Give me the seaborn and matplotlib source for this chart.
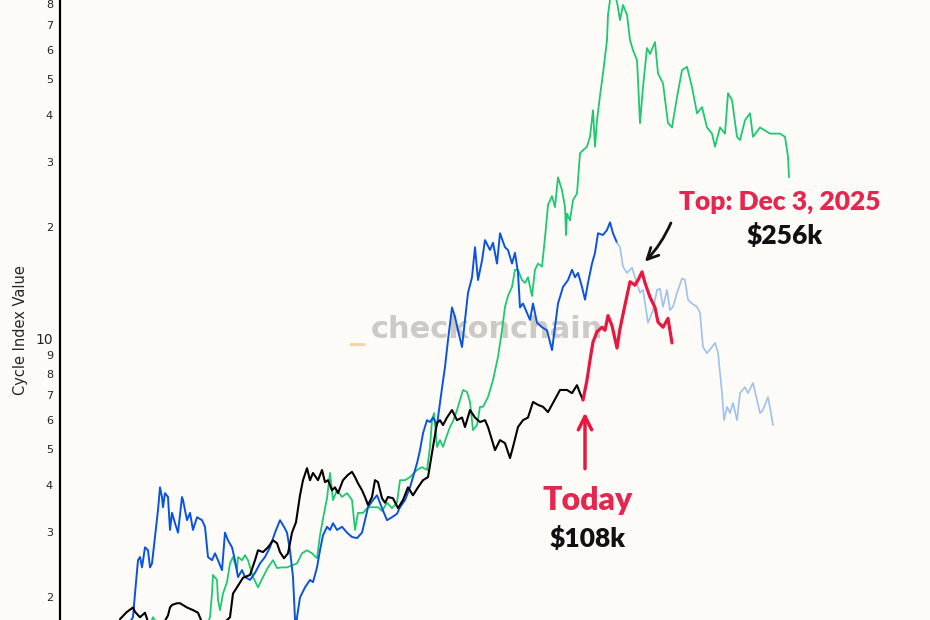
import seaborn as sns
import matplotlib.pyplot as plt
from matplotlib.ticker import FixedLocator, NullLocator

# Cycle index (log scale) against days since the cycle low
black_days = [120, 134, 146, 150, 160, 170, 176, 200, 216, 220,
              224, 234, 240, 254, 266, 276, 290, 310, 330, 340,
              346, 354, 366, 380, 390, 396, 406, 416, 426, 434,
              440, 448, 456, 464, 472, 480, 486, 494, 500, 506,
              516, 524, 530, 536, 544, 550, 556, 566, 576, 584,
              590, 596, 604, 610, 616, 624, 630, 636, 644, 650,
              656, 666, 676, 686, 696, 706, 716, 726, 736, 746,
              754, 760, 766, 774, 784, 794, 804, 810, 820, 830,
              840, 850, 856, 864, 870, 880, 890, 900, 906, 916,
              926, 936, 946, 956, 966, 976, 986, 1000, 1014, 1024,
              1034, 1040, 1046]
black_vals = [1.74, 1.82, 1.87, 1.82, 1.76, 1.81, 1.71, 1.63, 1.78, 1.87,
              1.90, 1.92, 1.92, 1.87, 1.84, 1.81, 1.63, 1.58, 1.71, 1.76,
              2.04, 2.12, 2.25, 2.29, 2.51, 2.67, 2.64, 2.72, 2.84, 2.79,
              2.64, 2.54, 2.62, 2.98, 3.18, 3.76, 4.13, 4.45, 4.13, 4.32,
              4.13, 4.40, 4.08, 4.13, 3.88, 3.95, 3.81, 4.13, 4.27, 4.35,
              4.21, 4.05, 3.88, 3.72, 3.54, 3.72, 4.13, 4.08, 3.69, 3.59,
              3.72, 3.69, 3.47, 3.65, 3.95, 3.76, 3.95, 4.13, 4.21, 5.08,
              5.89, 6.00, 5.82, 6.10, 6.39, 6.00, 6.10, 5.75, 6.39, 6.10,
              5.93, 6.00, 5.75, 5.30, 4.98, 5.30, 5.20, 4.74, 5.08, 5.75,
              6.00, 6.10, 6.72, 6.60, 6.52, 6.31, 6.68, 7.24, 7.24, 7.10,
              7.46, 7.10, 6.80]

blue_days = [130, 146, 150, 156, 160, 164, 170, 176, 180, 184,
             190, 196, 200, 204, 206, 210, 216, 220, 224, 230,
             236, 244, 246, 254, 260, 266, 274, 284, 290, 296,
             304, 310, 316, 324, 330, 336, 344, 350, 356, 364,
             370, 380, 390, 400, 410, 420, 430, 440, 448, 454,
             460, 466, 470, 472, 474, 480, 490, 500, 506, 514,
             520, 526, 534, 540, 546, 554, 564, 574, 584, 594,
             604, 610, 616, 626, 634, 644, 654, 664, 674, 680,
             690, 700, 706, 714, 720, 726, 734, 740, 746, 754,
             758, 764, 770, 776, 784, 790, 796, 804, 810, 816,
             824, 830, 836, 844, 850, 860, 866, 874, 880, 890,
             896, 904, 910, 916, 920, 926, 934, 940, 946, 954,
             964, 974, 984, 990, 996, 1006, 1016, 1024, 1030, 1036,
             1044, 1050, 1056, 1064, 1070, 1076, 1086, 1094, 1100, 1106,
             1114]
blue_vals = [1.63, 1.76, 2.04, 2.51, 2.56, 2.40, 2.72, 2.67, 2.40, 2.46,
             2.90, 3.43, 3.95, 3.72, 3.49, 3.81, 3.72, 3.03, 3.37, 3.16,
             2.98, 3.72, 3.65, 3.22, 3.37, 3.03, 3.28, 3.22, 3.09, 2.56,
             2.51, 2.62, 2.51, 2.36, 2.98, 2.84, 2.72, 2.51, 2.26, 2.36,
             2.26, 2.22, 2.32, 2.46, 2.56, 2.72, 2.98, 3.22, 3.09, 2.98,
             2.67, 2.26, 1.73, 1.63, 1.76, 1.99, 2.12, 2.22, 2.19, 2.40,
             2.67, 2.93, 3.09, 3.03, 3.16, 3.03, 3.09, 2.98, 2.90, 2.88,
             2.98, 3.22, 3.49, 3.65, 3.76, 3.47, 3.22, 3.28, 3.35, 3.49,
             3.65, 3.95, 4.21, 4.59, 4.98, 5.53, 6.00, 5.93, 6.10, 5.82,
             6.39, 7.33, 8.35, 9.88, 12.1, 11.4, 10.5, 9.46, 11.2, 13.25,
             14.6, 17.6, 14.35, 16.2, 18.4, 17.3, 18.1, 15.9, 19.2, 17.6,
             17.3, 15.9, 17.0, 15.0, 12.1, 12.4, 11.7, 11.2, 12.4, 11.0,
             10.7, 10.5, 9.28, 10.7, 12.4, 13.75, 14.35, 15.3, 14.6, 15.0,
             13.75, 12.7, 14.1, 15.9, 17.0, 19.2, 19.0, 19.6, 20.55, 19.2,
             18.1]

# rest of the blue cycle, drawn faded as the path ahead
proj_days = [1114, 1120, 1126, 1134, 1144, 1150, 1160, 1166, 1176, 1186,
             1194, 1200, 1206, 1214, 1220, 1226, 1234, 1244, 1250, 1256,
             1264, 1274, 1280, 1286, 1294, 1304, 1310, 1316, 1324, 1328,
             1334, 1340, 1346, 1354, 1360, 1370, 1376, 1386, 1394, 1400,
             1406, 1416, 1422, 1426]
proj_vals = [18.1, 17.6, 15.6, 15.0, 15.5, 14.6, 13.25, 13.5, 11.0, 11.9,
             13.5, 13.6, 12.15, 13.5, 11.9, 12.15, 13.25, 14.5, 14.35, 12.7,
             12.4, 12.15, 11.7, 9.46, 9.1, 9.46, 9.7, 9.15, 7.10, 6.00,
             6.52, 6.27, 6.68, 6.00, 7.10, 7.37, 7.10, 7.56, 6.80, 6.27,
             6.39, 6.93, 6.27, 5.82]

green_days = [176, 186, 196, 250, 290, 300, 304, 306, 314, 316,
              320, 326, 334, 340, 346, 354, 356, 364, 370, 376,
              386, 396, 406, 416, 426, 434, 444, 454, 464, 474,
              484, 494, 504, 514, 520, 526, 534, 540, 546, 554,
              564, 574, 584, 590, 596, 606, 616, 626, 636, 644,
              654, 664, 674, 680, 690, 700, 714, 724, 734, 740,
              744, 748, 754, 760, 766, 774, 780, 786, 794, 800,
              806, 814, 820, 826, 834, 840, 846, 856, 866, 876,
              884, 890, 896, 904, 910, 916, 924, 930, 936, 944,
              950, 956, 964, 970, 976, 984, 990, 996, 1004, 1010,
              1012, 1014, 1020, 1026, 1034, 1040, 1046, 1054, 1060, 1066,
              1070, 1074, 1080, 1086, 1094, 1096, 1100, 1106, 1114, 1120,
              1126, 1134, 1140, 1146, 1154, 1156, 1160, 1166, 1174, 1180,
              1190, 1196, 1206, 1216, 1224, 1234, 1244, 1254, 1264, 1274,
              1284, 1294, 1304, 1310, 1320, 1330, 1336, 1344, 1354, 1360,
              1370, 1380, 1386, 1400, 1420, 1440, 1450, 1456, 1458]
green_vals = [1.63, 1.76, 1.68, 1.53, 1.63, 1.76, 2.04, 2.29, 2.22, 1.96,
              1.84, 2.04, 2.19, 2.46, 2.56, 2.36, 2.56, 2.51, 2.59, 2.51,
              2.26, 2.12, 2.26, 2.40, 2.51, 2.39, 2.40, 2.40, 2.43, 2.46,
              2.62, 2.67, 2.62, 2.54, 2.93, 3.25, 3.69, 4.32, 3.65, 3.88,
              3.72, 3.81, 3.65, 3.03, 3.37, 3.37, 3.49, 3.49, 3.49, 3.41,
              3.59, 3.47, 3.59, 4.13, 4.13, 4.21, 4.40, 4.48, 4.40, 5.08,
              6.00, 6.27, 5.08, 5.30, 5.08, 5.47, 5.75, 5.96, 6.39, 6.80,
              7.24, 7.15, 6.72, 5.64, 5.82, 6.52, 6.52, 6.93, 7.70, 8.90,
              10.5, 12.15, 13.0, 13.75, 15.3, 15.3, 14.35, 14.1, 14.6, 13.0,
              15.3, 15.9, 15.6, 18.7, 22.9, 24.2, 22.6, 27.2, 25.1, 22.6,
              19.0, 21.7, 20.8, 23.6, 24.6, 31.6, 32.2, 32.9, 35.0, 41.3,
              32.9, 38.8, 45.2, 51.9, 63.9, 74.8, 82.0, 87.0, 81.0, 72.4,
              79.5, 74.8, 63.9, 60.0, 56.4, 49.8, 38.1, 47.7, 60.8, 58.6,
              63.1, 51.9, 48.8, 38.1, 37.1, 44.8, 53.0, 54.1, 47.7, 40.5,
              42.1, 37.1, 35.7, 32.9, 37.1, 35.7, 45.9, 44.0, 35.0, 34.3,
              38.8, 40.5, 35.0, 37.1, 35.7, 35.7, 35.0, 30.9, 27.2]

# current cycle since "today"
red_days = [1046, 1054, 1060, 1066, 1074, 1084, 1090, 1096, 1104, 1114,
            1120, 1130, 1140, 1150, 1156, 1164, 1170, 1180, 1190, 1196,
            1206, 1216, 1224]
red_vals = [6.80, 7.70, 8.72, 9.76, 10.4, 10.7, 10.5, 11.5, 10.8, 9.40,
            10.6, 12.3, 14.2, 13.9, 14.35, 15.1, 14.1, 12.9, 12.1, 11.05,
            10.7, 11.3, 9.70]

tick_vals = [2, 3, 4, 5, 6, 7, 8, 9, 10, 20, 30, 40, 50, 60, 70, 80]
tick_labels = ["2", "3", "4", "5", "6", "7", "8", "9", "10",
               "2", "3", "4", "5", "6", "7", "8"]

BG = "#fdfbf8"
BLACK = "#000000"
BLUE = "#0a52e0"
LIGHT_BLUE = "#9fc1ec"
GREEN = "#1ec870"
RED = "#e8173f"
LABEL_RED = "#e5264f"
BOLD_FONT = ["Lato", "DejaVu Sans"]

sns.set_style("white", rc={"axes.facecolor": BG, "figure.facecolor": BG})
plt.rcParams["font.family"] = ["DejaVu Sans"]

fig = plt.figure(figsize=(9.3, 6.2), dpi=100)
ax = fig.add_axes([60 / 930, 0, 870 / 930, 1])

sns.lineplot(x=green_days, y=green_vals, ax=ax, color=GREEN, linewidth=1.3)
sns.lineplot(x=blue_days, y=blue_vals, ax=ax, color=BLUE, linewidth=1.4)
sns.lineplot(x=black_days, y=black_vals, ax=ax, color=BLACK, linewidth=1.5)
sns.lineplot(x=proj_days, y=proj_vals, ax=ax, color=LIGHT_BLUE, linewidth=1.2)
sns.lineplot(x=red_days, y=red_vals, ax=ax, color=RED, linewidth=2.3)

ax.set_yscale("log")
ax.set_ylim(1.73, 82)
ax.set_xlim(0, 1740)
ax.yaxis.set_major_locator(FixedLocator(tick_vals))
ax.yaxis.set_minor_locator(NullLocator())
ax.set_yticklabels(tick_labels)
for val, lab in zip(tick_vals, ax.get_yticklabels()):
    lab.set_fontsize(10 if val == 10 else 8)
ax.tick_params(axis="y", length=0, pad=5, colors="#222222")
ax.set_xticks([])
ax.set_xlabel("")
ax.set_ylabel("Cycle Index Value", fontsize=10.5)
ax.yaxis.set_label_coords(-0.037, 0.468)

for side in ["top", "right", "bottom"]:
    ax.spines[side].set_visible(False)
ax.spines["left"].set_color(BLACK)
ax.spines["left"].set_linewidth(1.6)

# watermark
ax.text(0.333, 0.466, "_", transform=ax.transAxes, color="#f8d29c",
        fontsize=22, fontweight="bold", ha="left", va="center", zorder=0.5)
ax.text(0.357, 0.468, "checkonchain", transform=ax.transAxes, color="#cdc9c5",
        fontsize=22, fontweight="bold", ha="left", va="center", zorder=0.5)

# today marker
ax.annotate("", xy=(red_days[0] + 4, 6.4), xytext=(red_days[0] + 4, 4.36),
            arrowprops=dict(arrowstyle="->", color=RED, lw=2.5, mutation_scale=24))
ax.text(1056, 3.65, "Today", color=LABEL_RED, fontsize=23, fontweight="heavy",
        family=BOLD_FONT, ha="center", va="center")
ax.text(1056, 2.88, "$108k", color="#111111", fontsize=19, fontweight="heavy",
        family=BOLD_FONT, ha="center", va="center")

# projected top marker
ax.annotate("", xy=(1166, 15.9), xytext=(1224, 20.8),
            arrowprops=dict(arrowstyle="->", color="#111111", lw=2,
                            mutation_scale=20, connectionstyle="arc3,rad=-0.1"))
ax.text(1440, 23.3, "Top: Dec 3, 2025", color=LABEL_RED, fontsize=19,
        fontweight="heavy", family=BOLD_FONT, ha="center", va="center")
ax.text(1450, 18.9, "$256k", color="#111111", fontsize=19, fontweight="heavy",
        family=BOLD_FONT, ha="center", va="center")

fig.savefig("out.png", dpi=100, facecolor=BG)
